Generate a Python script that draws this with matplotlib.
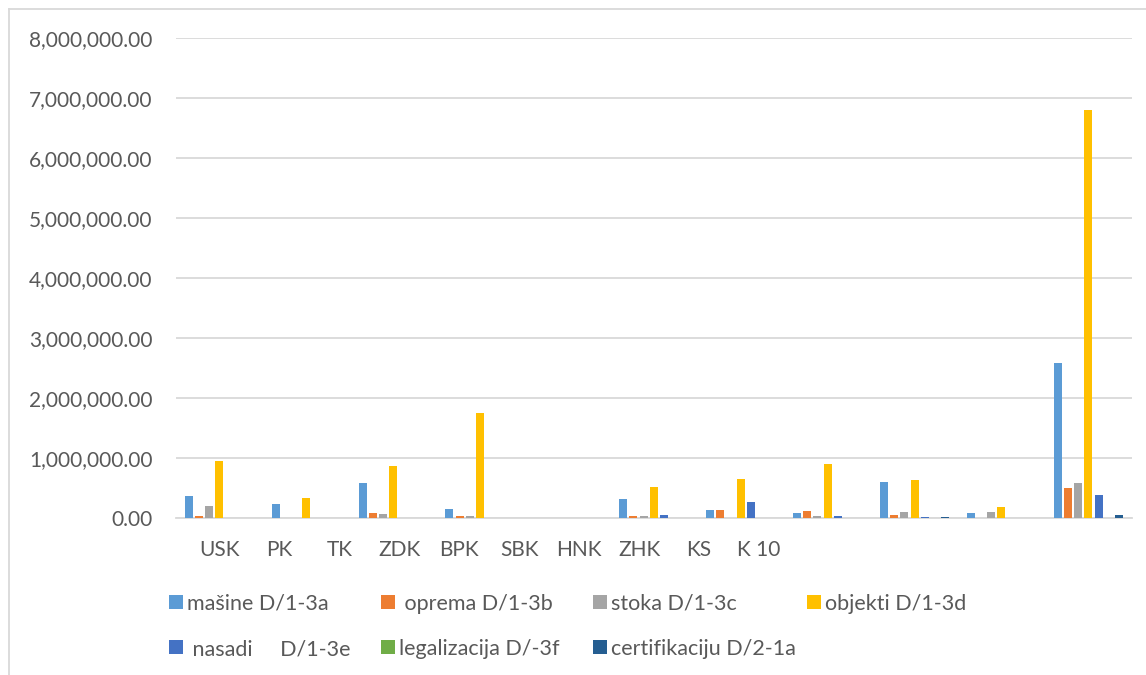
import matplotlib
matplotlib.use('Agg')
import matplotlib.pyplot as plt
import numpy as np
from matplotlib.lines import Line2D
from matplotlib.patches import Rectangle
from matplotlib.ticker import FuncFormatter

plt.rcParams['font.family'] = ['Lato', 'DejaVu Sans']

categories = ['USK', 'PK', 'TK', 'ZDK', 'BPK', 'SBK', 'HNK', 'ZHK', 'KS', 'K 10', '']
tick_labels = ['USK', 'PK', 'TK', 'ZDK', 'BPK', 'SBK', 'HNK', 'ZHK', 'KS', 'K 10']

masine = [362000, 240000, 590000, 156000, 0, 317000, 133000, 78000, 594000, 83000, 2580000]
oprema = [40000, 0, 89000, 28000, 0, 40000, 133000, 122000, 44000, 0, 506000]
stoka = [206000, 0, 67000, 33000, 0, 40000, 0, 28000, 106000, 100000, 578000]
objekti = [944000, 333000, 867000, 1750000, 0, 517000, 644000, 900000, 639000, 189000, 6800000]
nasadi = [0, 0, 0, 0, 0, 44000, 272000, 28000, 20000, 0, 389000]
legalizacija = [0, 0, 0, 0, 0, 0, 0, 0, 0, 0, 0]
certifikaciju = [0, 0, 0, 0, 0, 0, 0, 0, 20000, 0, 50000]

series = [
    ('mašine D/1-3a', masine, '#5B9BD5'),
    (' oprema D/1-3b', oprema, '#ED7D31'),
    ('stoka D/1-3c', stoka, '#A5A5A5'),
    ('objekti D/1-3d', objekti, '#FFC000'),
    (' nasadi     D/1-3e', nasadi, '#4472C4'),
    ('legalizacija D/-3f', legalizacija, '#70AD47'),
    ('certifikaciju D/2-1a', certifikaciju, '#255E91'),
]

W, H = 1146, 675
fig = plt.figure(figsize=(W / 100, H / 100), dpi=100)
ax = fig.add_axes([0.1536, 0.2326, 0.834, 0.7111])

x = np.arange(len(categories))
step = 0.1176
for k, (name, vals, color) in enumerate(series):
    ax.bar(x + (k - 3) * step, vals, width=0.092, color=color, label=name, zorder=3)

ax.set_xlim(-0.5, len(categories) - 0.5)
ax.set_ylim(0, 8000000)
ax.set_yticks(np.arange(0, 8000001, 1000000))
ax.yaxis.set_major_formatter(FuncFormatter(lambda v, p: f'{v:,.2f}'))
ax.grid(axis='y', color='#D9D9D9', linewidth=1.3, zorder=0)
ax.set_xticks(np.arange(len(tick_labels)) * 0.69)
ax.set_xticklabels(tick_labels)
ax.tick_params(axis='both', length=0, labelsize=15, colors='#595959')
ax.tick_params(axis='x', pad=16)
ax.tick_params(axis='y', pad=17)
for s in ['top', 'right', 'left']:
    ax.spines[s].set_visible(False)
ax.spines['bottom'].set_color('#D9D9D9')
ax.spines['bottom'].set_linewidth(1.3)

# legend: Excel style grid, 4 columns of equal width, filled row by row
col_x = [169, 381, 593, 807]
row_y = [602, 647]
for k, (name, vals, color) in enumerate(series):
    cx = col_x[k % 4]
    cy = row_y[k // 4]
    fig.add_artist(Rectangle((cx / W, 1 - (cy + 7) / H), 14 / W, 14 / H,
                             transform=fig.transFigure, facecolor=color, edgecolor='none'))
    fig.text((cx + 18) / W, 1 - cy / H, name, fontsize=15.5, color='#595959',
             va='center_baseline', ha='left')

# chart border (top and left visible)
fig.add_artist(Line2D([0.0075, 1.0], [0.9867, 0.9867], transform=fig.transFigure,
                      color='#D9D9D9', linewidth=1.3))
fig.add_artist(Line2D([0.0075, 0.0075], [0.0, 0.9867], transform=fig.transFigure,
                      color='#D9D9D9', linewidth=1.3))

fig.savefig('out.png', dpi=100)
